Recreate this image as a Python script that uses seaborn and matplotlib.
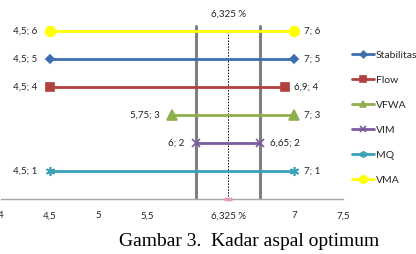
import pandas as pd
import seaborn as sns
import matplotlib.pyplot as plt

series = ['Stabilitas', 'Flow', 'VFWA', 'VIM', 'MQ', 'VMA']
x_start = [4.5, 4.5, 5.75, 6.0, 4.5, 4.5]
x_end = [7.0, 6.9, 7.0, 6.65, 7.0, 7.0]
y_level = [5, 4, 3, 2, 1, 6]
left_labels = ['4,5; 5', '4,5; 4', '5,75; 3', '6; 2', '4,5; 1', '4,5; 6']
right_labels = ['7; 5', '6,9; 4', '7; 3', '6,65; 2', '7; 1', '7; 6']
colors = ['#3F6EAF', '#B2403D', '#8DB04B', '#7A5C9E', '#3BA1B9', '#FFFF00']
markers = ['D', 's', '^', 'x', (6, 2, 0), 'o']
msizes = [4.5, 6, 6.5, 5.5, 6.5, 7]

optimum = 6.325
bounds = [6.0, 6.65]
tick_pos = [4, 4.5, 5, 5.5, 6.325, 7, 7.5]
tick_lab = ['4', '4,5', '5', '5,5', '6,325 %', '7', '7,5']

rows = []
for s, a, b, y in zip(series, x_start, x_end, y_level):
    rows.append({'series': s, 'x': a, 'y': y})
    rows.append({'series': s, 'x': b, 'y': y})
df = pd.DataFrame(rows)

sns.set_style('white')
plt.rcParams['font.family'] = ['Lato', 'DejaVu Sans']

fig = plt.figure(figsize=(4.16, 2.54), dpi=100)
ax = fig.add_axes([0.002, 0.217, 0.823, 0.77])

# optimum range lines
for bx in bounds:
    ax.plot([bx, bx], [0, 6.18], color='#808080', lw=2.2, zorder=1)
ax.plot([optimum, optimum], [0, 6.0], color='black', lw=0.7, ls=(0, (1.5, 1.5)), zorder=1)
ax.plot([optimum], [0], marker='_', color='#E89AAE', ms=6, mew=2.5, clip_on=False, zorder=4)

for s, c, m, ms in zip(series, colors, markers, msizes):
    d = df[df['series'] == s]
    sns.lineplot(data=d, x='x', y='y', ax=ax, color=c, lw=2.0, marker=m,
                 markersize=ms, markeredgecolor=c, markeredgewidth=1.2,
                 estimator=None, sort=False, label=s, zorder=3)

for a, b, y, l, r in zip(x_start, x_end, y_level, left_labels, right_labels):
    ax.annotate(l, (a, y), xytext=(-9, 0), textcoords='offset points',
                ha='right', va='center', fontsize=7, color='#222222')
    ax.annotate(r, (b, y), xytext=(7, 0), textcoords='offset points',
                ha='left', va='center', fontsize=7, color='#222222')

ax.text(optimum, 6.6, '6,325 %', ha='center', va='center', fontsize=7, color='#222222')

ax.set_xlim(4, 7.5)
ax.set_ylim(0, 7)
ax.set_xticks(tick_pos)
ax.set_xticklabels(tick_lab, fontsize=7, color='#222222')
ax.set_yticks([])
ax.tick_params(axis='x', length=0, pad=9)
ax.set_xlabel('')
ax.set_ylabel('')
for side in ['top', 'right', 'left']:
    ax.spines[side].set_visible(False)
ax.spines['bottom'].set_color('#A6A6A6')
ax.spines['bottom'].set_linewidth(1.0)

ax.legend(loc='upper left', bbox_to_anchor=(0.845, 0.80), bbox_transform=fig.transFigure,
          frameon=False, fontsize=7.5, handlelength=2.2, handletextpad=0.15,
          labelspacing=1.5, borderaxespad=0, borderpad=0, markerscale=0.75)

fig.text(0.6, 0.05, 'Gambar 3.  Kadar aspal optimum', ha='center', va='center',
         fontsize=14, family='Liberation Serif', color='black')

fig.savefig('out.png', dpi=100)
